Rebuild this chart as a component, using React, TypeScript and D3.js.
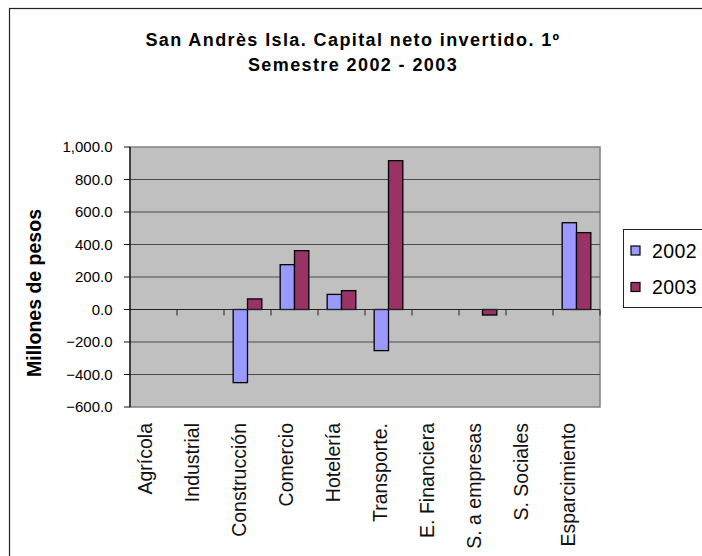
import React from 'react';
import * as d3 from 'd3';

// datos
const categories = ['Agrícola', 'Industrial', 'Construcción', 'Comercio', 'Hotelería', 'Transporte.', 'E. Financiera', 'S. a empresas', 'S. Sociales', 'Esparcimiento'];
const series = ['2002', '2003'];
const values2002 = [0, 0, -450, 276, 93, -253, 0, 0, 0, 534];
const values2003 = [0, 0, 65, 362, 116, 916, 0, -34, 0, 473];
const yTicks = [-600, -400, -200, 0, 200, 400, 600, 800, 1000];
const titleLines = ['San Andrès Isla. Capital neto invertido. 1º', 'Semestre 2002 - 2003'];

const colors: Record<string, string> = {'2002': '#9999FF', '2003': '#993366'};
const seriesValues: Record<string, number[]> = {'2002': values2002, '2003': values2003};

const W = 702;
const H = 556;
const plot = {left: 130, top: 147, right: 600, bottom: 407};
const font = '"Liberation Sans", Arial, sans-serif';

const App: React.FC = () => {
    const y = d3.scaleLinear().domain([-600, 1000]).range([plot.bottom, plot.top]);
    const x0 = d3.scaleBand<string>().domain(categories).range([plot.left, plot.right]).padding(0);
    const x1 = d3.scaleBand<string>().domain(series).range([0, x0.bandwidth()]).paddingInner(0).paddingOuter(0.64);
    const fmt = d3.format(',.1f');
    const y0 = y(0);

    return (
        <svg width={W} height={H} style={{position: 'absolute', left: 0, top: 0, background: '#fff'}} fontFamily={font}>
            {/* borde del gráfico */}
            <rect x={9.5} y={8.5} width={800} height={600} fill="#fff" stroke="#222" strokeWidth={1.2}/>

            {/* título */}
            {titleLines.map((t, i) => (
                <text key={t} x={353} y={46 + i * 24.5} textAnchor="middle" fontSize={18} fontWeight="bold" letterSpacing={1.4}>{t}</text>
            ))}

            {/* área de trazado */}
            <rect x={plot.left} y={plot.top} width={plot.right - plot.left} height={plot.bottom - plot.top} fill="#C0C0C0" stroke="#808080" strokeWidth={1.5}/>

            {/* líneas de división */}
            {yTicks.filter(t => t !== -600 && t !== 1000 && t !== 0).map(t => (
                <line key={t} x1={plot.left} x2={plot.right} y1={y(t)} y2={y(t)} stroke="#4a4a4a" strokeWidth={1}/>
            ))}

            {/* barras */}
            {categories.map((c, i) => (
                <g key={c} transform={`translate(${x0(c)},0)`}>
                    {series.map(s => {
                        const v = seriesValues[s][i];
                        if (v === 0) return null;
                        return (
                            <rect key={s} x={x1(s)} width={x1.bandwidth()}
                                  y={Math.min(y(v), y0)} height={Math.abs(y(v) - y0)}
                                  fill={colors[s]} stroke="#000" strokeWidth={1.3}/>
                        );
                    })}
                </g>
            ))}

            {/* eje cero y marcas de categoría */}
            <line x1={plot.left} x2={plot.right} y1={y0} y2={y0} stroke="#222" strokeWidth={1}/>
            {categories.map(c => (
                <line key={c} x1={x0(c)! + x0.bandwidth()} x2={x0(c)! + x0.bandwidth()} y1={y0} y2={y0 + 6} stroke="#222" strokeWidth={1}/>
            ))}

            {/* eje Y */}
            <line x1={plot.left} x2={plot.left} y1={plot.top} y2={plot.bottom} stroke="#111" strokeWidth={1.3}/>
            {yTicks.map(t => (
                <g key={t}>
                    <line x1={plot.left - 6} x2={plot.left} y1={y(t)} y2={y(t)} stroke="#111" strokeWidth={1}/>
                    <text x={112.5} y={y(t)} dy="0.36em" textAnchor="end" fontSize={15}>{fmt(t)}</text>
                </g>
            ))}
            <text transform={`translate(41,293) rotate(-90)`} textAnchor="middle" fontSize={19.5} fontWeight="bold">Millones de pesos</text>

            {/* etiquetas de categoría */}
            {categories.map(c => (
                <text key={c} transform={`translate(${x0(c)! + x0.bandwidth() / 2 - 1.5},423) rotate(-90)`}
                      textAnchor="end" fontSize={19.5} fill="#111">{c}</text>
            ))}

            {/* leyenda */}
            <rect x={623.5} y={229.5} width={120} height={78} fill="#fff" stroke="#222" strokeWidth={1}/>
            {series.map((s, i) => (
                <g key={s} transform={`translate(631,${250.5 + i * 36.5})`}>
                    <rect x={0} y={-4.5} width={9} height={9} fill={colors[s]} stroke="#000" strokeWidth={1.2}/>
                    <text x={21} y={0} dy="0.36em" fontSize={19.5} letterSpacing={0.4}>{s}</text>
                </g>
            ))}
        </svg>
    );
};

export default App;
